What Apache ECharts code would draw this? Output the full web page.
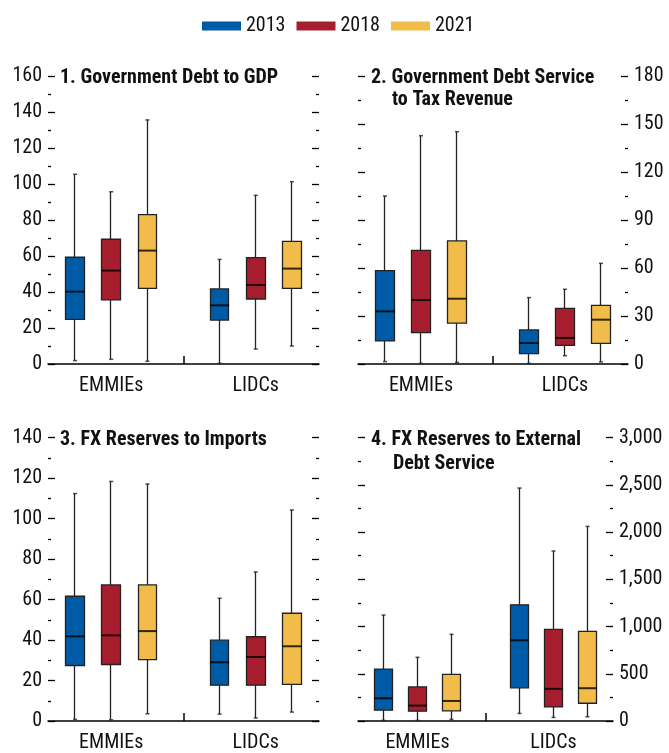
<!DOCTYPE html>
<html>
<head>
<meta charset="utf-8">
<script src="https://cdn.jsdelivr.net/npm/echarts@6/dist/echarts.min.js"></script>
<style>
  html, body { margin: 0; padding: 0; background: #fff; }
  #main { width: 669px; height: 753px; }
</style>
</head>
<body>
<div id="main"></div>
<script>
const years = ['2013', '2018', '2021'];
const groups = ['EMMIEs', 'LIDCs'];

// rows: [min, q1, median, q3, max]
// order: EMMIEs 2013, 2018, 2021, then LIDCs 2013, 2018, 2021
const debtToGdp = [
    [1.9, 24.8, 40.2, 59.3, 105.4],
    [2.6, 35.6, 51.9, 69.3, 95.7],
    [1.5, 42, 63, 83, 135.6],
    [0.4, 24.4, 32.6, 41.7, 58.1],
    [8.3, 36.1, 43.9, 59.1, 93.7],
    [10, 42, 53, 68.1, 101.3]
];
const debtServiceToTax = [
    [1.5, 14.4, 32.9, 58.3, 105],
    [0.4, 19.6, 40, 71, 142.7],
    [1, 25.6, 40.8, 76.9, 145.2],
    [0.4, 6.5, 13.1, 21.3, 41.5],
    [5.2, 11.7, 16.3, 34.8, 46.7],
    [1.3, 12.9, 27.7, 36.7, 62.9]
];
const reservesToImports = [
    [0.8, 27.4, 41.8, 61.6, 112.3],
    [0.6, 27.9, 42.3, 67.2, 118.3],
    [3.6, 30.3, 44.4, 67.2, 117],
    [3.4, 17.7, 29, 39.9, 60.6],
    [1.5, 17.7, 31.6, 41.6, 73.6],
    [4.4, 18.1, 36.9, 53.2, 104.2]
];
const reservesToExtDebtService = [
    [7, 115, 240, 549, 1121],
    [7, 104, 163, 361, 674],
    [17, 108, 212, 493, 917],
    [80, 351, 854, 1229, 2465],
    [38, 149, 340, 969, 1799],
    [45, 188, 347, 948, 2059]
];

const colors = ['#005BA6', '#A61E2E', '#F2BC4A'];
const font = "'Liberation Sans Narrow', 'Arial Narrow', 'Roboto Condensed', sans-serif";

// 15 half-width slots per panel, boxes sit on odd slots, separator on slot 7
const slotCount = 15;
function slotOf(k) {
    return 1 + 2 * (k % 3) + 8 * Math.floor(k / 3);
}
const slots = [];
for (let i = 0; i < slotCount; i++) slots.push(i === 3 ? groups[0] : (i === 11 ? groups[1] : ''));

const panels = [
    {rows: debtToGdp, max: 160, interval: 20, side: 'left', boxW: 19,
        grid: {left: 48, top: 76, width: 271, height: 288},
        titles: [['1. Government Debt to GDP', 60, 68]]},
    {rows: debtServiceToTax, max: 180, interval: 30, side: 'right', boxW: 19,
        grid: {left: 358, top: 76, width: 270, height: 288},
        titles: [['2. Government Debt Service', 371, 68], ['to Tax Revenue', 392, 90]]},
    {rows: reservesToImports, max: 140, interval: 20, side: 'left', boxW: 19,
        grid: {left: 48, top: 437.5, width: 271, height: 288},
        titles: [['3. FX Reserves to Imports', 60, 430]]},
    {rows: reservesToExtDebtService, max: 3000, interval: 500, side: 'right', boxW: 18,
        grid: {left: 358, top: 437.5, width: 255, height: 288},
        titles: [['4. FX Reserves to External', 371, 430], ['Debt Service', 393, 454]]}
];

let grid = [], xAxis = [], yAxis = [], series = [], title = [];

panels.forEach(function (p, pi) {
    grid.push(p.grid);
    p.titles.forEach(function (t) {
        title.push({
            text: t[0], left: t[1], top: t[2], padding: 0,
            textStyle: {fontFamily: font, fontSize: 20, fontWeight: 'bold', color: '#111'}
        });
    });
    xAxis.push({
        gridIndex: pi,
        type: 'category',
        data: slots,
        axisLine: {lineStyle: {color: '#000', width: 1.5}},
        axisTick: {
            show: true, inside: true, length: 8, alignWithLabel: true,
            interval: function (i) { return i === 7; },
            lineStyle: {color: '#000', width: 1.5}
        },
        axisLabel: {interval: 0, margin: 12, fontFamily: font, fontSize: 20, color: '#111'},
        splitLine: {show: false}
    });
    let yBase = {
        gridIndex: pi,
        type: 'value',
        min: 0,
        max: p.max,
        interval: p.interval,
        axisLine: {show: false},
        axisTick: {show: true, inside: true, length: 7, lineStyle: {color: '#000', width: 1.3}},
        minorTick: {show: true, splitNumber: 2, length: 3, lineStyle: {color: '#000', width: 1.3}},
        splitLine: {show: false}
    };
    yAxis.push(Object.assign({}, yBase, {
        position: p.side,
        axisLabel: {
            margin: 6, fontFamily: font, fontSize: 20, color: '#111',
            formatter: function (v) { return v.toLocaleString('en-US'); }
        }
    }));
    yAxis.push(Object.assign({}, yBase, {
        position: p.side === 'left' ? 'right' : 'left',
        axisLabel: {show: false}
    }));

    years.forEach(function (yr, yi) {
        let data = slots.map(function () { return '-'; });
        p.rows.forEach(function (r, k) {
            if (k % 3 === yi) data[slotOf(k)] = [r[1], r[3], r[0], r[4]];
        });
        series.push({
            name: yr,
            type: 'candlestick',
            xAxisIndex: pi,
            yAxisIndex: 2 * pi,
            barWidth: p.boxW,
            data: data,
            itemStyle: {
                color: colors[yi], color0: colors[yi],
                borderColor: '#222', borderColor0: '#222', borderColorDoji: '#222',
                borderWidth: 1.3
            }
        });
    });
    // median lines
    series.push({
        type: 'scatter',
        xAxisIndex: pi,
        yAxisIndex: 2 * pi,
        symbol: 'rect',
        symbolSize: [p.boxW, 2],
        itemStyle: {color: '#000'},
        z: 5,
        data: p.rows.map(function (r, k) { return [slotOf(k), r[2]]; })
    });
    // whisker caps
    let caps = [];
    p.rows.forEach(function (r, k) {
        caps.push([slotOf(k), r[0]]);
        caps.push([slotOf(k), r[4]]);
    });
    series.push({
        type: 'scatter',
        xAxisIndex: pi,
        yAxisIndex: 2 * pi,
        symbol: 'rect',
        symbolSize: [4, 1.5],
        itemStyle: {color: '#222'},
        z: 5,
        data: caps
    });
});

let chart = echarts.init(document.getElementById('main'));
chart.setOption({
    animation: false,
    title: title,
    legend: {
        left: 202,
        top: 16,
        padding: 0,
        itemWidth: 39,
        itemHeight: 9,
        itemGap: 11,
        textStyle: {fontFamily: font, fontSize: 20, color: '#111', padding: [0, 0, 0, 0]},
        data: years.map(function (yr, yi) {
            return {name: yr, icon: 'rect', itemStyle: {color: colors[yi], borderWidth: 0}};
        })
    },
    grid: grid,
    xAxis: xAxis,
    yAxis: yAxis,
    series: series
});
</script>
</body>
</html>
